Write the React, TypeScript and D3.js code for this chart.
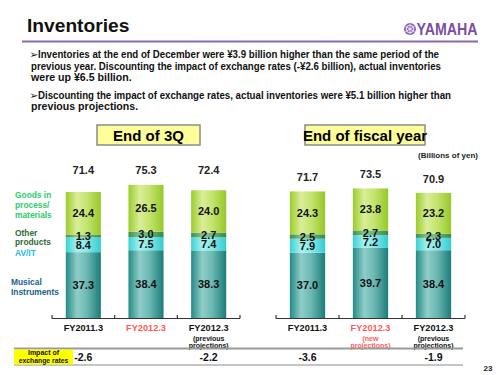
import React from "react";
import * as d3 from "d3";

const categories3Q = ["FY2011.3", "FY2012.3", "FY2012.3"];
const sub3Q = [[], [], ["(previous", "projections)"]];
const musical3Q = [37.3, 38.4, 38.3];
const avit3Q = [8.4, 7.5, 7.4];
const other3Q = [1.3, 3.0, 2.7];
const goods3Q = [24.4, 26.5, 24.0];
const totals3Q = [71.4, 75.3, 72.4];
const impact3Q = ["-2.6", "", "-2.2"];

const categoriesFY = ["FY2011.3", "FY2012.3", "FY2012.3"];
const subFY = [[], ["(new", "projections)"], ["(previous", "projections)"]];
const musicalFY = [37.0, 39.7, 38.4];
const avitFY = [7.9, 7.2, 7.0];
const otherFY = [2.5, 2.7, 2.3];
const goodsFY = [24.3, 23.8, 23.2];
const totalsFY = [71.7, 73.5, 70.9];
const impactFY = ["-3.6", "", "-1.9"];

const highlighted = [false, true, false];

const seriesNames = ["Musical instruments", "AV/IT", "Other products", "Goods in process/materials"];

const bullets = [
  { first: "Inventories at the end of December were ¥3.9 billion higher than the same period of the", rest: ["previous year. Discounting the impact of exchange rates (-¥2.6 billion), actual inventories", "were up ¥6.5 billion."] },
  { first: "Discounting the impact of exchange rates, actual inventories were ¥5.1 billion higher than", rest: ["previous projections."] },
];

const FONT = "'Liberation Sans', Arial, sans-serif";

const grads = [
  { id: "gMus", stops: ["#238a86", "#8fcdc8", "#6cb8b3", "#1b7d79"] },
  { id: "gAv", stops: ["#3ad2d4", "#a6f1f0", "#86e8e8", "#34cccf"] },
  { id: "gOth", stops: ["#3f8f4c", "#82c48c", "#6ab478", "#3a874a"] },
  { id: "gGoods", stops: ["#9ccc2c", "#d9ee98", "#c4e46e", "#96c82a"] },
];

const y = d3.scaleLinear().domain([0, 80]).range([318, 318 - 80 * 1.765]);

type Group = {
  title: string;
  box: [number, number];
  axis: [number, number];
  cats: string[];
  subs: string[][];
  series: number[][];
  totals: number[];
  impact: string[];
  fixedLabel: boolean;
};

const groupsData: Group[] = [
  { title: "End of 3Q", box: [97, 200], axis: [52, 240], cats: categories3Q, subs: sub3Q, series: [musical3Q, avit3Q, other3Q, goods3Q], totals: totals3Q, impact: impact3Q, fixedLabel: true },
  { title: "End of fiscal year", box: [305, 425], axis: [276, 465], cats: categoriesFY, subs: subFY, series: [musicalFY, avitFY, otherFY, goodsFY], totals: totalsFY, impact: impactFY, fixedLabel: false },
];

function GroupChart({ g }: { g: Group }) {
  const idx = g.cats.map((_, i) => String(i));
  const x = d3.scaleBand().domain(idx).range(g.axis).paddingInner(0.44).paddingOuter(0.22);
  const stackRows = g.cats.map((_, i) => {
    const row: any = { key: String(i) };
    g.series.forEach((s, k) => (row["s" + k] = s[i]));
    return row;
  });
  const stack = d3.stack().keys(g.series.map((_, k) => "s" + k))(stackRows as any);
  const base = y(0);
  const maxTop = y(d3.max(g.totals) as number);
  return (
    <g>
      <rect x={g.box[0]} y={125} width={g.box[1] - g.box[0]} height={20} fill="#ffff99" stroke="#8c8c8c" strokeWidth={1.5} />
      <text x={(g.box[0] + g.box[1]) / 2} y={140.5} textAnchor="middle" fontSize={15} fontWeight="bold" fontFamily={FONT} fill="#000">{g.title}</text>
      {stack.map((layer, k) => (
        <g key={k}>
          {layer.map((d, i) => (
            <rect key={i} x={x(String(i))} y={y(d[1])} width={x.bandwidth()} height={y(d[0]) - y(d[1])} fill={`url(#${grads[k].id})`} />
          ))}
        </g>
      ))}
      {stack.map((layer, k) => (
        <g key={"l" + k}>
          {layer.map((d, i) => (
            <text key={i} x={(x(String(i)) as number) + x.bandwidth() / 2} y={(y(d[0]) + y(d[1])) / 2} dy="0.36em" textAnchor="middle" fontSize={11} fontWeight="bold" fontFamily={FONT} fill="#111">
              {g.series[k][i].toFixed(1)}
            </text>
          ))}
        </g>
      ))}
      {g.totals.map((t, i) => (
        <text key={i} x={(x(String(i)) as number) + x.bandwidth() / 2} y={g.fixedLabel ? maxTop - 11 : y(t) - 10} textAnchor="middle" fontSize={11} fontWeight="bold" fontFamily={FONT} fill="#222">
          {t.toFixed(1)}
        </text>
      ))}
      <line x1={g.axis[0]} x2={g.axis[1]} y1={base + 0.5} y2={base + 0.5} stroke="#333" strokeWidth={1.2} />
      {[g.axis[0], ...idx.slice(1).map((k) => (x(k) as number) - (x.step() - x.bandwidth()) / 2), g.axis[1]].map((tx, i) => (
        <line key={i} x1={tx} x2={tx} y1={base + 0.5} y2={base - 3} stroke="#333" strokeWidth={1.2} />
      ))}
      {g.cats.map((c, i) => {
        const cx = (x(String(i)) as number) + x.bandwidth() / 2;
        const col = highlighted[i] ? "#ff5a5a" : "#111";
        return (
          <g key={i}>
            <text x={cx} y={331} textAnchor="middle" fontSize={9.2} fontWeight="bold" fontFamily={FONT} fill={col}>{c}</text>
            {g.subs[i].map((s, j) => (
              <text key={j} x={cx} y={340.5 + j * 7.8} textAnchor="middle" fontSize={7} fontWeight="bold" fontFamily={FONT} fill={col}>{s}</text>
            ))}
            {g.impact[i] && (
              <text x={cx} y={361} textAnchor="middle" fontSize={10.5} fontWeight="bold" fontFamily={FONT} fill="#111">{g.impact[i]}</text>
            )}
          </g>
        );
      })}
    </g>
  );
}

export default function App() {
  return (
    <svg width={500} height={375} style={{ position: "fixed", left: 0, top: 0, background: "#fff" }} fontFamily={FONT}>
      <defs>
        {grads.map((gr) => (
          <linearGradient key={gr.id} id={gr.id} x1="0" x2="1" y1="0" y2="0">
            <stop offset="0%" stopColor={gr.stops[0]} />
            <stop offset="32%" stopColor={gr.stops[1]} />
            <stop offset="60%" stopColor={gr.stops[2]} />
            <stop offset="100%" stopColor={gr.stops[3]} />
          </linearGradient>
        ))}
      </defs>
      <rect width={500} height={375} fill="#fff" />
      <text x={27} y={32} fontSize={19.2} fontWeight="bold" fill="#111">Inventories</text>
      {/* logo */}
      <g>
        <circle cx={410} cy={29} r={6} fill="#8c67b4" />
        <circle cx={410} cy={29} r={3.8} fill="none" stroke="#fff" strokeWidth={0.8} />
        {[0, 60, 120].map((a) => (
          <line key={a} x1={410} y1={23.8} x2={410} y2={34.2} stroke="#fff" strokeWidth={0.7} transform={`rotate(${a} 410 29)`} />
        ))}
        <text x={416.5} y={34.6} fontSize={16} fontWeight="bold" fill="#7b4fa3" textLength={61} lengthAdjust="spacingAndGlyphs">YAMAHA</text>
      </g>
      <line x1={22} x2={478} y1={41.5} y2={41.5} stroke="#8a68ad" strokeWidth={2} />

      {/* bullets */}
      <g fontSize={10.6} fontWeight="bold" fill="#111">
        <text x={29.5} y={58} fontSize={10.5} fontFamily="'DejaVu Sans'">➢</text>
        <text x={38} y={58} textLength={401} lengthAdjust="spacingAndGlyphs">{bullets[0].first}</text>
        <text x={31} y={69.5} textLength={410} lengthAdjust="spacingAndGlyphs">{bullets[0].rest[0]}</text>
        <text x={31} y={80.5}>{bullets[0].rest[1]}</text>
        <text x={29.5} y={99} fontSize={10.5} fontFamily="'DejaVu Sans'">➢</text>
        <text x={38} y={99} textLength={413} lengthAdjust="spacingAndGlyphs">{bullets[1].first}</text>
        <text x={31} y={110}>{bullets[1].rest[0]}</text>
      </g>

      <text x={478} y={158} textAnchor="end" fontSize={8} fontWeight="bold" fill="#222">(Billions of yen)</text>

      {/* series labels on the left */}
      <g fontSize={8.4} fontWeight="bold">
        <text x={15} y={198} fill="#2ccc66">Goods in</text>
        <text x={15} y={208} fill="#2ccc66">process/</text>
        <text x={15} y={218} fill="#2ccc66">materials</text>
        <text x={15} y={235.5} fill="#2f6a33">Other</text>
        <text x={15} y={244.5} fill="#2f6a33">products</text>
        <text x={15} y={255.5} fill="#22bbee">AV/IT</text>
        <text x={11} y={284.5} fill="#21628f">Musical</text>
        <text x={11} y={294.5} fill="#21628f">Instruments</text>
      </g>
      <title>{seriesNames.join(", ")}</title>

      {groupsData.map((g, i) => (
        <GroupChart key={i} g={g} />
      ))}

      {/* impact row */}
      <line x1={14} x2={463} y1={348.5} y2={348.5} stroke="#9a9a9a" strokeWidth={2} />
      <line x1={14} x2={463} y1={365} y2={365} stroke="#8a8a8a" strokeWidth={1} />
      <rect x={14} y={349.5} width={59} height={15} fill="#ffff00" />
      <text x={43.5} y={355} textAnchor="middle" fontSize={7} fontWeight="bold" fill="#111">Impact of</text>
      <text x={43.5} y={362.5} textAnchor="middle" fontSize={6.8} fontWeight="bold" fill="#111">exchange rates</text>

      <text x={488} y={370.5} textAnchor="middle" fontSize={8} fontWeight="bold" fill="#222">23</text>
    </svg>
  );
}
